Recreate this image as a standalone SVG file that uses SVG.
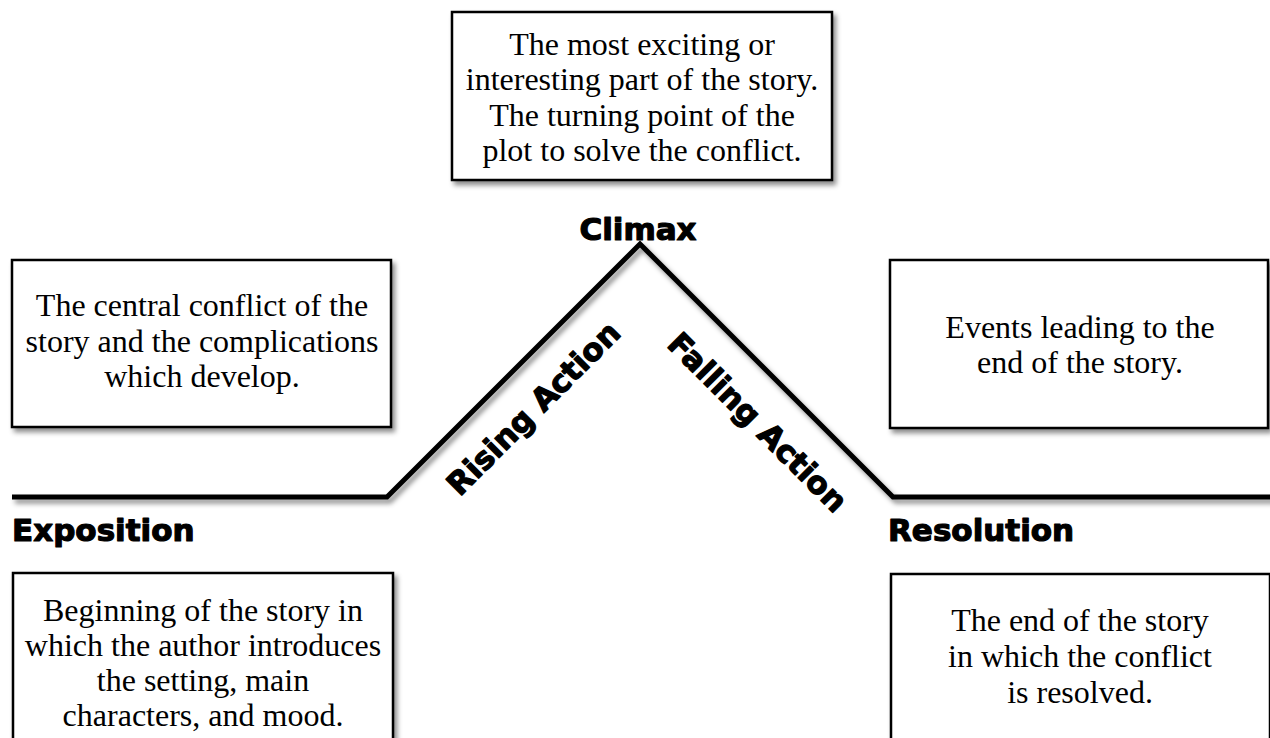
<svg xmlns="http://www.w3.org/2000/svg" width="1270" height="738" viewBox="0 0 1270 738">
<defs>
<filter id="sh" x="-10%" y="-10%" width="130%" height="140%">
<feDropShadow dx="3" dy="4" stdDeviation="2.5" flood-color="#000" flood-opacity="0.45"/>
</filter>
<style>
.box{fill:#fff;stroke:#000;stroke-width:2.5;filter:url(#sh)}
.t{font-family:"Liberation Serif","Times New Roman",serif;font-size:32px;fill:#000;text-anchor:middle}
.lbl{font-family:"DejaVu Sans","Liberation Sans",sans-serif;font-weight:bold;font-size:31px;fill:#000;stroke:#000;stroke-width:1.2;stroke-linejoin:round}
.plot{fill:none;stroke:#000;stroke-width:5;stroke-linejoin:miter;filter:url(#sh)}
</style>
</defs>
<rect width="1270" height="738" fill="#fff"/>
<g id="connectors">
<polyline class="plot" points="12,497 387,497 640,244 893,497 1275,497"/>
</g>
<g id="climax-box">
<rect class="box" x="452" y="12" width="380" height="168"/>
<text class="t" x="642" y="55">The most exciting or</text>
<text class="t" x="642" y="90">interesting part of the story.</text>
<text class="t" x="642" y="126">The turning point of the</text>
<text class="t" x="642" y="161">plot to solve the conflict.</text>
</g>
<g id="rising-box">
<rect class="box" x="12" y="260" width="379" height="167"/>
<text class="t" x="202" y="316">The central conflict of the</text>
<text class="t" x="202" y="352">story and the complications</text>
<text class="t" x="202" y="387">which develop.</text>
</g>
<g id="falling-box">
<rect class="box" x="890" y="260" width="378" height="168"/>
<text class="t" x="1080" y="338">Events leading to the</text>
<text class="t" x="1080" y="373">end of the story.</text>
</g>
<g id="exposition-box">
<rect class="box" x="13" y="573" width="380" height="190"/>
<text class="t" x="203" y="621">Beginning of the story in</text>
<text class="t" x="203" y="656">which the author introduces</text>
<text class="t" x="203" y="691">the setting, main</text>
<text class="t" x="203" y="726">characters, and mood.</text>
</g>
<g id="resolution-box">
<rect class="box" x="891" y="574" width="379" height="190"/>
<text class="t" x="1080" y="631">The end of the story</text>
<text class="t" x="1080" y="667">in which the conflict</text>
<text class="t" x="1080" y="703">is resolved.</text>
</g>
<g id="labels">
<text class="lbl" x="638" y="240" text-anchor="middle">Climax</text>
<text class="lbl" x="12" y="541">Exposition</text>
<text class="lbl" x="888" y="541">Resolution</text>
<text class="lbl" x="541" y="416" text-anchor="middle" transform="rotate(-45 541 416)">Rising Action</text>
<text class="lbl" x="750" y="430" text-anchor="middle" transform="rotate(45 750 430)">Falling Action</text>
</g>
</svg>
